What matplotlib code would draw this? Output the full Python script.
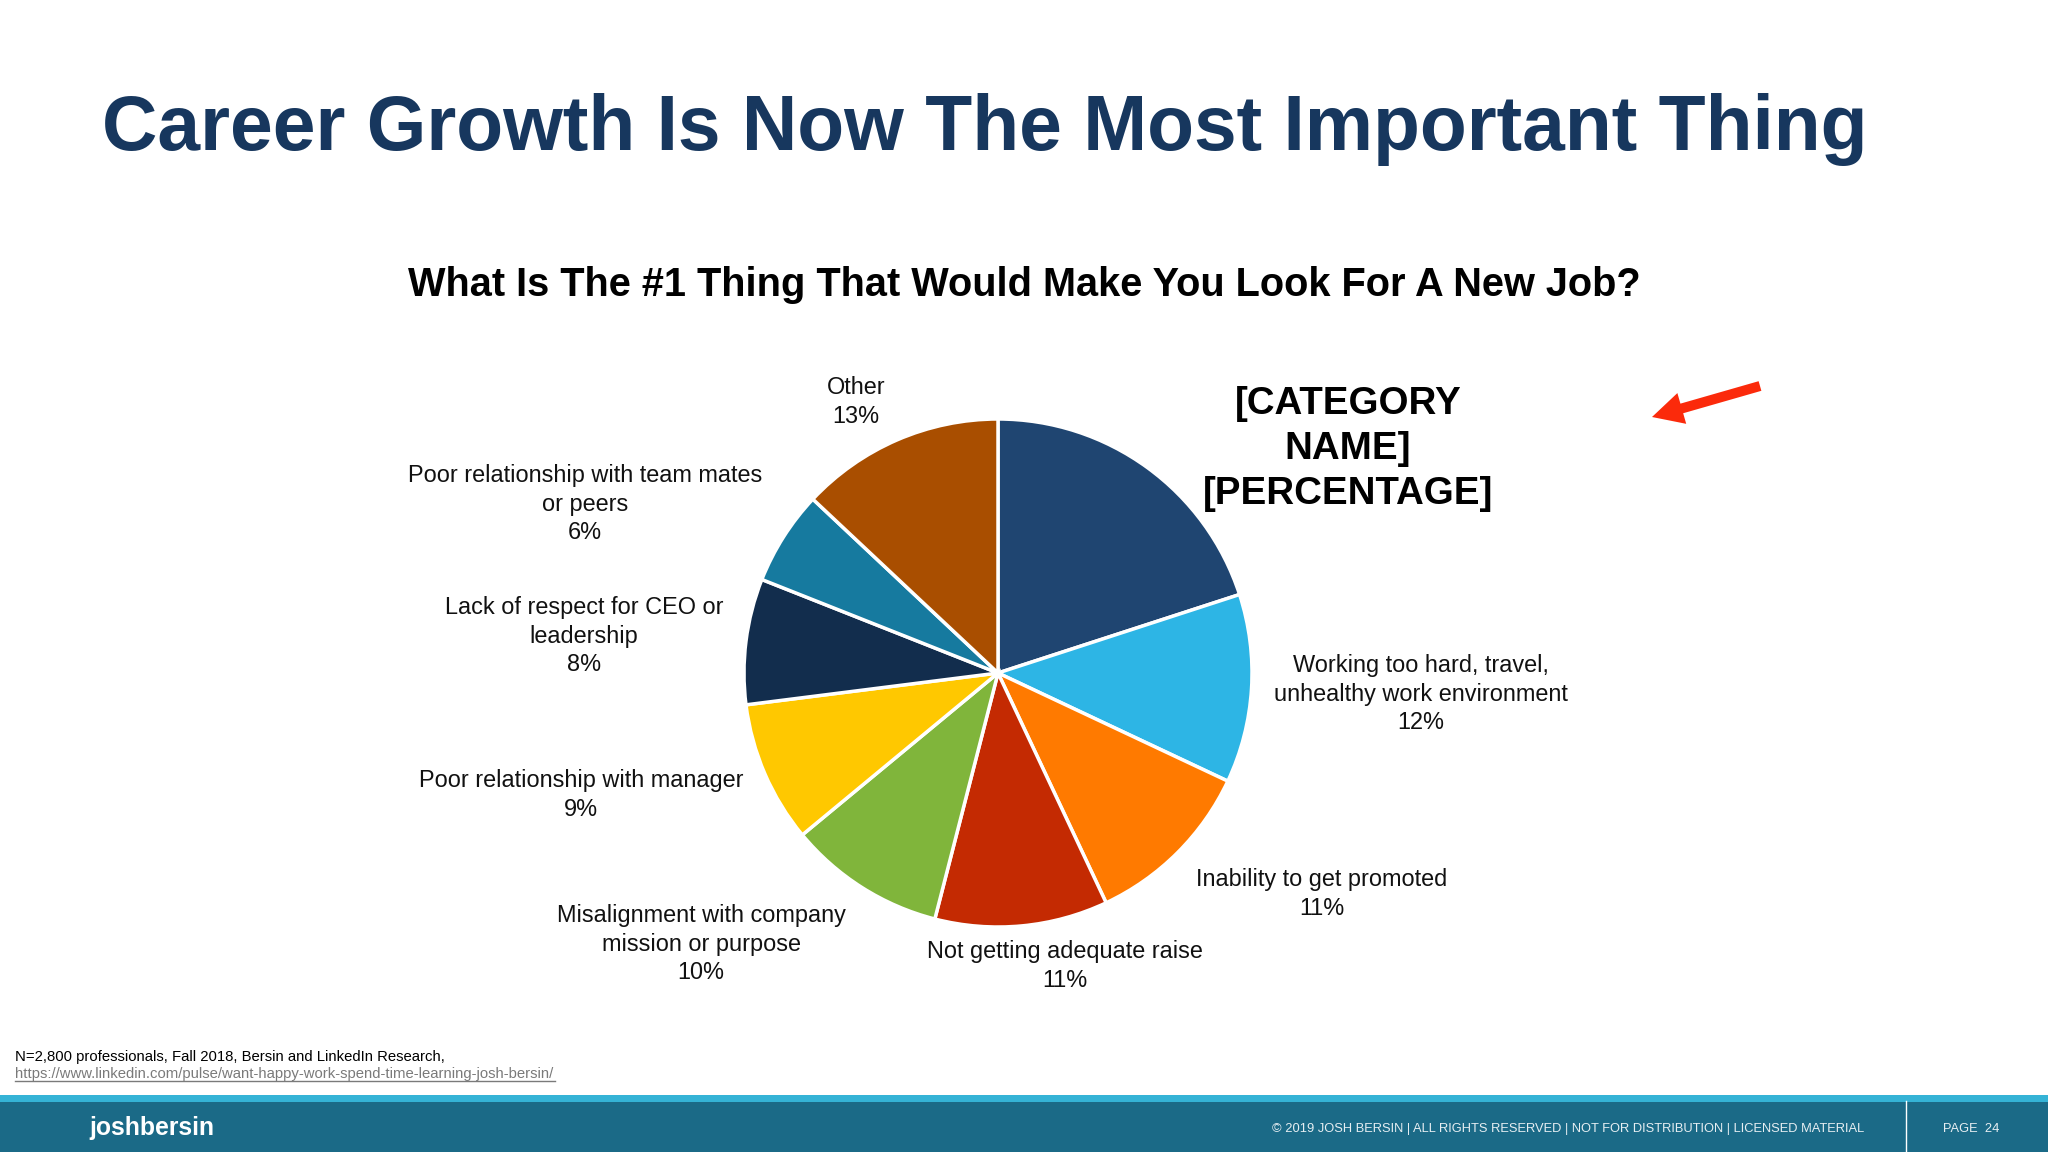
import matplotlib
matplotlib.use("Agg")
from matplotlib import pyplot as plt
from matplotlib.patches import FancyArrow, Rectangle

plt.rcParams['font.family'] = ['Liberation Sans', 'DejaVu Sans']

W, H = 2048, 1152

# pie values, clockwise from 12 o'clock
values = [20, 12, 11, 11, 10, 9, 8, 6, 13]
colors = ['#1F4571', '#2DB5E5', '#FF7A00', '#C42A02', '#80B53B',
          '#FFC800', '#122D4D', '#167A9F', '#A94E00']
labels = ['[CATEGORY\nNAME]\n[PERCENTAGE]',
          'Working too hard, travel,\nunhealthy work environment',
          'Inability to get promoted',
          'Not getting adequate raise',
          'Misalignment with company\nmission or purpose',
          'Poor relationship with manager',
          'Lack of respect for CEO or\nleadership',
          'Poor relationship with team mates\nor peers',
          'Other']
label_x = [1348, 1421, 1322, 1065, 701, 581, 584, 585, 856]
label_y = [449, 694, 894, 966, 944, 795, 636, 504, 402]

fig = plt.figure(figsize=(W / 100, H / 100), dpi=100, facecolor='white')

# overlay in pixel coordinates for slide furniture and text
bg = fig.add_axes([0, 0, 1, 1])
bg.set_xlim(0, W)
bg.set_ylim(H, 0)
bg.axis('off')

bg.text(102, 130, 'Career Growth Is Now The Most Important Thing', fontsize=55.3,
        fontweight='bold', color='#17375E', ha='left', va='center')
bg.text(1024, 285, 'What Is The #1 Thing That Would Make You Look For A New Job?',
        fontsize=28.6, fontweight='bold', color='black', ha='center', va='center')

# pie
cx, cy, r = 998, 673, 254
pad = 1.02
ax = fig.add_axes([(cx - r * pad) / W, 1 - (cy + r * pad) / H,
                   2 * r * pad / W, 2 * r * pad / H])
ax.pie(values, colors=colors, startangle=90, counterclock=False,
       wedgeprops={'edgecolor': 'white', 'linewidth': 2.5})
ax.set_xlim(-pad, pad)
ax.set_ylim(-pad, pad)

# data labels
for i, lab in enumerate(labels):
    if i == 0:
        bg.text(label_x[i], label_y[i], lab, fontsize=27.7, fontweight='bold',
                ha='center', va='center', linespacing=1.33, color='black')
    else:
        bg.text(label_x[i], label_y[i], f"{lab}\n{values[i]}%", fontsize=16.9,
                ha='center', va='center', linespacing=1.31, color='#111111')

# red arrow
bg.add_patch(FancyArrow(1760, 386, -108, 31, width=10, head_width=32, head_length=31,
                        length_includes_head=True, color='#FB2A0B', lw=0))

# source note
bg.text(15, 1057, 'N=2,800 professionals, Fall 2018, Bersin and LinkedIn Research,',
        fontsize=10.75, color='black', ha='left', va='center')
bg.text(15, 1074, 'https://www.linkedin.com/pulse/want-happy-work-spend-time-learning-josh-bersin/',
        fontsize=10.75, color='#7A7A7A', ha='left', va='center')
bg.plot([15, 555], [1081, 1081], color='#7A7A7A', lw=1)

# footer
bg.add_patch(Rectangle((0, 1095), W, 7, color='#35B3D6', lw=0))
bg.add_patch(Rectangle((0, 1102), W, 50, color='#1B6A87', lw=0))
bg.plot([1906, 1906], [1101, 1152], color='white', lw=1)
bg.text(89, 1128, 'joshbersin', fontsize=17.8, fontweight='bold', color='white',
        ha='left', va='center')
bg.text(1272, 1129, '© 2019 JOSH BERSIN | ALL RIGHTS RESERVED | NOT FOR DISTRIBUTION | LICENSED MATERIAL',
        fontsize=9.25, color='#E6EEF2', ha='left', va='center')
bg.text(1943, 1129, 'PAGE  24', fontsize=9.25, color='#E6EEF2', ha='left', va='center')

fig.savefig('out.png', dpi=100)
